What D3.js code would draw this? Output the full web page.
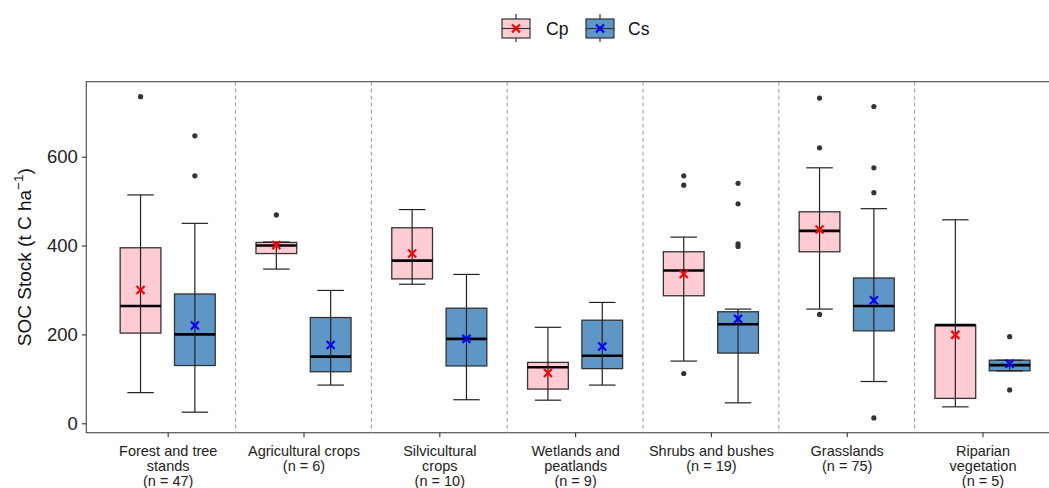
<!DOCTYPE html>
<html>
<head>
<meta charset="utf-8">
<script src="https://cdn.jsdelivr.net/npm/d3@7"></script>
<style>
  body { margin: 0; background: #fff; }
  svg { display: block; font-family: "Liberation Sans", Arial, sans-serif; }
</style>
</head>
<body>
<svg id="chart" width="1049" height="488"></svg>
<script>
// Land-use categories (x-axis labels, split onto lines)
const categories = [
  ["Forest and tree", "stands", "(n = 47)"],
  ["Agricultural crops", "(n = 6)"],
  ["Silvicultural", "crops", "(n = 10)"],
  ["Wetlands and", "peatlands", "(n = 9)"],
  ["Shrubs and bushes", "(n = 19)"],
  ["Grasslands", "(n = 75)"],
  ["Riparian", "vegetation", "(n = 5)"]
];
const groups = ["Cp", "Cs"];

// Box statistics per category: [lowerWhisker, q1, median, q3, upperWhisker]
const cpStats = [
  [69, 203, 264, 395, 514],
  [347, 382, 400, 407, 408],
  [313, 325, 366, 440, 481],
  [52, 77, 126, 137, 216],
  [140, 287, 344, 386, 419],
  [257, 386, 433, 476, 575],
  [37, 56, 221, 221, 458]
];
const csStats = [
  [25, 130, 200, 291, 450],
  [86, 116, 150, 238, 299],
  [53, 129, 190, 259, 335],
  [86, 123, 152, 232, 272],
  [46, 158, 223, 251, 257],
  [94, 208, 264, 327, 483],
  [118, 118, 131, 142, 142]
];
// Means (x markers)
const cpMeans = [300, 401, 382, 113, 336, 436, 199];
const csMeans = [220, 176, 190, 173, 235, 277, 134];
// Outliers
const cpOutliers = [[735], [469], [], [], [557, 536, 112], [732, 620, 245], []];
const csOutliers = [[647, 557], [], [], [], [540, 494, 404, 398], [713, 575, 519, 12], [195, 75]];

const yTicks = [0, 200, 400, 600];

const fills = { Cp: "#FFCCD4", Cs: "#5E96C5" };
const meanColors = { Cp: "#FF0000", Cs: "#0000FF" };

const svg = d3.select("#chart");
const panel = { left: 86.3, right: 1063.9, top: 81.7, bottom: 432.7 };

const y = d3.scaleLinear().domain([-21.2, 768.8]).range([panel.bottom, panel.top]);
const x = d3.scalePoint().domain(d3.range(categories.length)).range([167.7, 982.5]);
const step = x.step();
const offset = { Cp: -0.2 * step, Cs: 0.2 * step };
const boxW = 0.3 * step;
const capW = 0.195 * step;

// Panel border
svg.append("rect")
  .attr("x", panel.left).attr("y", panel.top)
  .attr("width", panel.right - panel.left).attr("height", panel.bottom - panel.top)
  .attr("fill", "none").attr("stroke", "#555").attr("stroke-width", 1.2);

// Dashed separators between categories
svg.append("g").selectAll("line")
  .data(d3.range(categories.length - 1))
  .join("line")
  .attr("x1", d => x(d) + step / 2).attr("x2", d => x(d) + step / 2)
  .attr("y1", panel.top).attr("y2", panel.bottom)
  .attr("stroke", "#9a9a9a").attr("stroke-width", 1).attr("stroke-dasharray", "4,3");

// Y axis
const yAxis = svg.append("g")
  .attr("transform", `translate(${panel.left},0)`)
  .call(d3.axisLeft(y).tickValues(yTicks).tickSize(4.5).tickPadding(4));
yAxis.select(".domain").remove();
yAxis.selectAll(".tick line").attr("stroke", "#333").attr("stroke-width", 1.1);
yAxis.selectAll(".tick text").attr("fill", "#222").style("font-size", "18.5px")
  .style("font-family", "'Liberation Sans', Arial, sans-serif");

// X axis
const xAxis = svg.append("g")
  .attr("transform", `translate(0,${panel.bottom})`)
  .call(d3.axisBottom(x).tickSize(4.5).tickFormat(""));
xAxis.select(".domain").remove();
xAxis.selectAll(".tick line").attr("stroke", "#333").attr("stroke-width", 1.1);
xAxis.selectAll(".tick").each(function (d) {
  const t = d3.select(this).append("text")
    .attr("text-anchor", "middle").attr("fill", "#222")
    .style("font-size", "14.5px");
  categories[d].forEach((line, i) => {
    t.append("tspan").attr("x", 0).attr("y", 23 + i * 15.4).text(line);
  });
});

// Y axis title
const yTitle = svg.append("text")
  .attr("transform", `translate(31,${(panel.top + panel.bottom) / 2}) rotate(-90)`)
  .attr("text-anchor", "middle").attr("fill", "#111")
  .style("font-size", "19px");
yTitle.append("tspan").text("SOC Stock (t C ha");
yTitle.append("tspan").attr("dy", -8).style("font-size", "13.5px").text("\u22121");
yTitle.append("tspan").attr("dy", 8).text(")");

// Draw one box-and-whisker group
function drawBoxes(group, stats, means, outliers) {
  const g = svg.append("g");
  stats.forEach((s, i) => {
    const cx = x(i) + offset[group];
    const [lo, q1, med, q3, hi] = s;
    g.append("rect")
      .attr("x", cx - boxW / 2).attr("y", y(q3))
      .attr("width", boxW).attr("height", Math.max(0.5, y(q1) - y(q3)))
      .attr("fill", fills[group]).attr("stroke", "#333").attr("stroke-width", 1.3);
    g.append("line")
      .attr("x1", cx - boxW / 2).attr("x2", cx + boxW / 2)
      .attr("y1", y(med)).attr("y2", y(med))
      .attr("stroke", "#000").attr("stroke-width", 2.6);
    // whisker (error bar) drawn over the box
    g.append("line")
      .attr("x1", cx).attr("x2", cx).attr("y1", y(lo)).attr("y2", y(hi))
      .attr("stroke", "#222").attr("stroke-width", 1.2);
    [lo, hi].forEach(v => {
      g.append("line")
        .attr("x1", cx - capW / 2).attr("x2", cx + capW / 2)
        .attr("y1", y(v)).attr("y2", y(v))
        .attr("stroke", "#222").attr("stroke-width", 1.2);
    });
    outliers[i].forEach(v => {
      g.append("circle").attr("cx", cx).attr("cy", y(v)).attr("r", 2.6).attr("fill", "#333");
    });
    const my = y(means[i]), m = 4;
    g.append("path")
      .attr("d", `M${cx - m},${my - m}L${cx + m},${my + m}M${cx - m},${my + m}L${cx + m},${my - m}`)
      .attr("stroke", meanColors[group]).attr("stroke-width", 2.2).attr("fill", "none");
  });
}
drawBoxes("Cp", cpStats, cpMeans, cpOutliers);
drawBoxes("Cs", csStats, csMeans, csOutliers);

// Legend
const legend = svg.append("g");
const legendItems = [
  { key: "Cp", x: 502, tx: 546 },
  { key: "Cs", x: 586, tx: 628 }
];
legendItems.forEach(it => {
  const g = legend.append("g").attr("transform", `translate(${it.x},0)`);
  g.append("line").attr("x1", 14).attr("x2", 14).attr("y1", 14).attr("y2", 42)
    .attr("stroke", "#333").attr("stroke-width", 1.2);
  g.append("rect").attr("x", 0).attr("y", 19).attr("width", 28).attr("height", 19)
    .attr("fill", fills[it.key]).attr("stroke", "#333").attr("stroke-width", 1.2);
  g.append("line").attr("x1", 0).attr("x2", 28).attr("y1", 28.5).attr("y2", 28.5)
    .attr("stroke", "#333").attr("stroke-width", 1.2);
  const m = 4;
  g.append("path")
    .attr("d", `M${14 - m},${28.5 - m}L${14 + m},${28.5 + m}M${14 - m},${28.5 + m}L${14 + m},${28.5 - m}`)
    .attr("stroke", meanColors[it.key]).attr("stroke-width", 2.2);
  legend.append("text").attr("x", it.tx).attr("y", 35).attr("fill", "#111")
    .style("font-size", "17.5px").text(it.key);
});
</script>
</body>
</html>
